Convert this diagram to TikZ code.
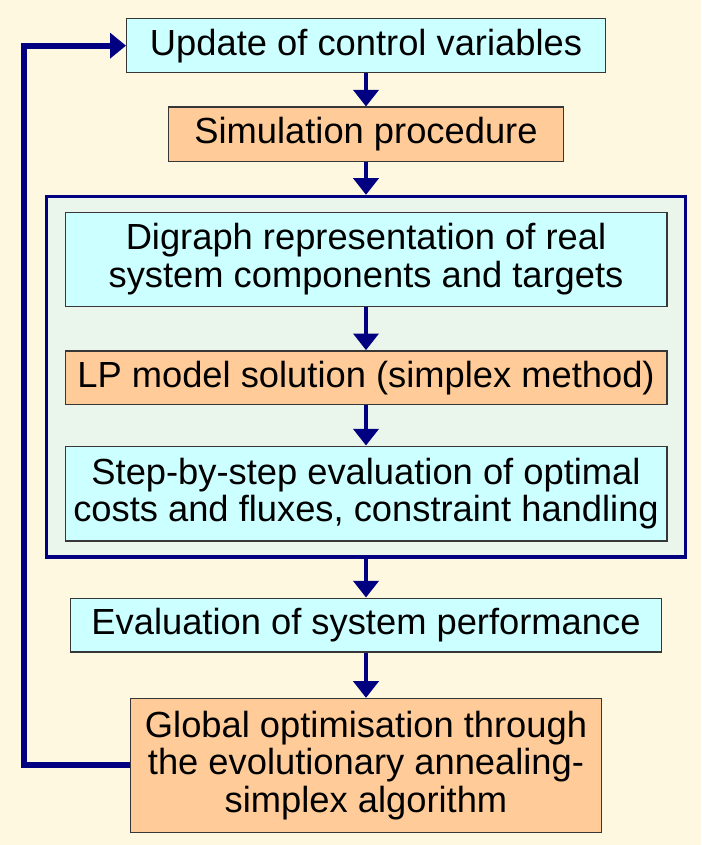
\documentclass[tikz,border=0pt]{standalone}
\usepackage{fontspec}
\setmainfont{Liberation Sans}
\usetikzlibrary{positioning, fit, backgrounds, arrows.meta}
\definecolor{navyline}{RGB}{0,0,128}
\definecolor{boxcyan}{RGB}{204,255,255}
\definecolor{boxpeach}{RGB}{255,204,153}
\definecolor{paper}{RGB}{255,248,225}
\definecolor{panel}{RGB}{234,246,236}
\definecolor{edgegray}{RGB}{55,55,55}
\tikzstyle{base} = [minimum height=1.61cm, text centered, align=center, draw=edgegray, line width=0.04cm, inner sep=2pt, font=\fontsize{31}{32}\selectfont]
\tikzstyle{task} = [base, rectangle, fill=boxcyan]
\tikzstyle{solver} = [base, rectangle, fill=boxpeach]
\tikzstyle{flow} = [navyline, line width=0.12cm, -{Triangle[width=0.75cm,length=0.5cm]}]
\tikzstyle{feedback} = [navyline, line width=0.18cm, -{Triangle[width=0.75cm,length=0.48cm]}]

\begin{document}
\begin{tikzpicture}

\begin{scope}[on background layer]
\fill[paper] (0,0) rectangle (21.03,-25.35);
\end{scope}
\useasboundingbox (0,0) rectangle (21.03,-25.35);

\node (UPDATE) [task, minimum width=14.36cm] at (10.98,-1.37) {Update of control variables};
\node (SIMULATION) [solver, minimum width=11.84cm, minimum height=1.64cm, below=1.0cm of UPDATE] {Simulation procedure};
\node (DIGRAPH) [task, minimum width=18.05cm, minimum height=2.81cm, below=1.48cm of SIMULATION] {Digraph representation of real\\system components and targets};
\node (LP_SOLUTION) [solver, minimum width=18.05cm, below=1.3cm of DIGRAPH] {LP model solution (simplex method)};
\node (STEP_EVALUATION) [task, minimum width=18.05cm, minimum height=2.84cm, below=1.21cm of LP_SOLUTION] {Step-by-step evaluation of optimal\\costs and fluxes, constraint handling};
\node (PERFORMANCE) [task, minimum width=17.72cm, below=1.68cm of STEP_EVALUATION] {Evaluation of system performance};
\node (GLOBAL_OPT) [solver, minimum width=14.12cm, minimum height=4.01cm, below=1.36cm of PERFORMANCE] {Global optimisation through\\the evolutionary annealing-\\simplex algorithm};

\begin{scope}[on background layer]
\node (PANEL) [fit=(DIGRAPH)(STEP_EVALUATION), inner xsep=0.54cm, inner ysep=0.46cm, draw=navyline, line width=0.1cm, fill=panel] {};
\end{scope}

\draw [flow] (UPDATE) -- (SIMULATION);
\draw [flow] (SIMULATION) -- (PANEL);
\draw [flow] (DIGRAPH) -- (LP_SOLUTION);
\draw [flow] (LP_SOLUTION) -- (STEP_EVALUATION);
\draw [flow] (PANEL) -- (PERFORMANCE);
\draw [flow] (PERFORMANCE) -- (GLOBAL_OPT);

\coordinate (RETURN) at (0.72,0);
\draw [feedback] (GLOBAL_OPT.west) -- (GLOBAL_OPT.west -| RETURN) |- (UPDATE.west);

\end{tikzpicture}
\end{document}
